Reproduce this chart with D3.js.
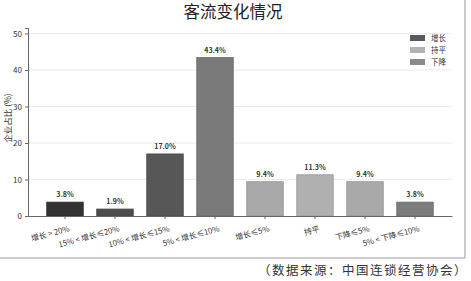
<!DOCTYPE html>
<html>
<head>
<meta charset="utf-8">
<script src="https://cdn.jsdelivr.net/npm/d3@7"></script>
<style>
  body { margin: 0; background: #fff; }
  text { font-family: "Noto Sans CJK SC", "Noto Sans", sans-serif; }
</style>
</head>
<body>
<div id="chart"></div>
<script>
// categories and values
const categories = ["增长 > 20%", "15% < 增长≤20%", "10% < 增长≤15%", "5% < 增长≤10%",
                    "增长≤5%", "持平", "下降≤5%", "5% < 下降≤10%"];
const values = [3.8, 1.9, 17.0, 43.4, 9.4, 11.3, 9.4, 3.8];
const yTicks = [0, 10, 20, 30, 40, 50];
const legendItems = ["增长", "持平", "下降"];

const barColors = ["#333333", "#4d4d4d", "#575757", "#7a7a7a", "#a9a9a9", "#b0b0b0", "#a9a9a9", "#7c7c7c"];
const legendColors = { "增长": "#5a5a5a", "持平": "#b3b3b3", "下降": "#8a8a8a" };

const W = 471, H = 281;
const svg = d3.select("#chart").append("svg")
  .attr("width", W).attr("height", H);

// frame lines
svg.append("line").attr("x1", 0).attr("x2", 465).attr("y1", 258).attr("y2", 258)
  .attr("stroke", "#bbb").attr("stroke-width", 1.5);
svg.append("line").attr("x1", 465).attr("x2", 465).attr("y1", 0).attr("y2", 258)
  .attr("stroke", "#bbb").attr("stroke-width", 1.5);

svg.append("text")
  .attr("x", 233).attr("y", 18)
  .attr("text-anchor", "middle")
  .attr("font-size", 16.5)
  .attr("fill", "#222")
  .text("客流变化情况");

const x = d3.scaleBand()
  .domain(categories)
  .range([28, 452])
  .paddingInner(0.27)
  .paddingOuter(0.375);

const y = d3.scaleLinear()
  .domain([0, 51.5])
  .range([216, 28]);

// grid
svg.append("g").selectAll("line")
  .data(yTicks.filter(d => d > 0))
  .join("line")
    .attr("x1", 28).attr("x2", 452)
    .attr("y1", d => y(d)).attr("y2", d => y(d))
    .attr("stroke", "#ebebeb").attr("stroke-width", 1);

// y axis
const yAxis = svg.append("g")
  .attr("transform", "translate(28,0)")
  .call(d3.axisLeft(y).tickValues(yTicks).tickSize(3).tickPadding(3));
yAxis.select(".domain").attr("stroke", "#666");
yAxis.selectAll(".tick line").attr("stroke", "#666");
yAxis.selectAll("text").attr("font-size", 8).attr("fill", "#333");

svg.append("text")
  .attr("transform", "translate(11,118) rotate(-90)")
  .attr("text-anchor", "middle")
  .attr("font-size", 8.5)
  .attr("fill", "#333")
  .text("企业占比 (%)");

// bars
svg.append("g").selectAll("rect")
  .data(values)
  .join("rect")
    .attr("x", (d, i) => x(categories[i]))
    .attr("y", d => y(d))
    .attr("width", x.bandwidth())
    .attr("height", d => y(0) - y(d))
    .attr("fill", (d, i) => barColors[i])
    .attr("stroke", (d, i) => d3.color(barColors[i]).darker(0.4))
    .attr("stroke-width", 0.8);

// value labels
svg.append("g").selectAll("text")
  .data(values)
  .join("text")
    .attr("x", (d, i) => x(categories[i]) + x.bandwidth() / 2)
    .attr("y", d => y(d) - 5)
    .attr("text-anchor", "middle")
    .attr("font-size", 7)
    .attr("font-weight", "bold")
    .attr("fill", "#333")
    .text(d => d.toFixed(1) + "%");

// x axis
const xAxis = svg.append("g")
  .attr("transform", "translate(0,216)")
  .call(d3.axisBottom(x).tickSize(3).tickSizeOuter(0));
xAxis.select(".domain").attr("stroke", "#666");
xAxis.selectAll(".tick line").attr("stroke", "#666");
xAxis.selectAll("text")
  .attr("font-size", 7.8)
  .attr("fill", "#333")
  .attr("text-anchor", "end")
  .attr("transform", "translate(2,4) rotate(-15)");

// legend
const legend = svg.append("g").selectAll("g")
  .data(legendItems)
  .join("g")
    .attr("transform", (d, i) => `translate(410,${38 + i * 12})`);
legend.append("rect")
  .attr("x", 0).attr("y", -3).attr("width", 15).attr("height", 6)
  .attr("fill", d => legendColors[d]);
legend.append("text")
  .attr("x", 21).attr("y", 3)
  .attr("font-size", 7.5)
  .attr("fill", "#333")
  .text(d => d);

// source note
svg.append("text")
  .attr("x", 468).attr("y", 275)
  .attr("text-anchor", "end")
  .attr("font-size", 12.5)
  .attr("letter-spacing", 1.5)
  .attr("fill", "#333")
  .text("（数据来源：中国连锁经营协会）");
</script>
</body>
</html>
